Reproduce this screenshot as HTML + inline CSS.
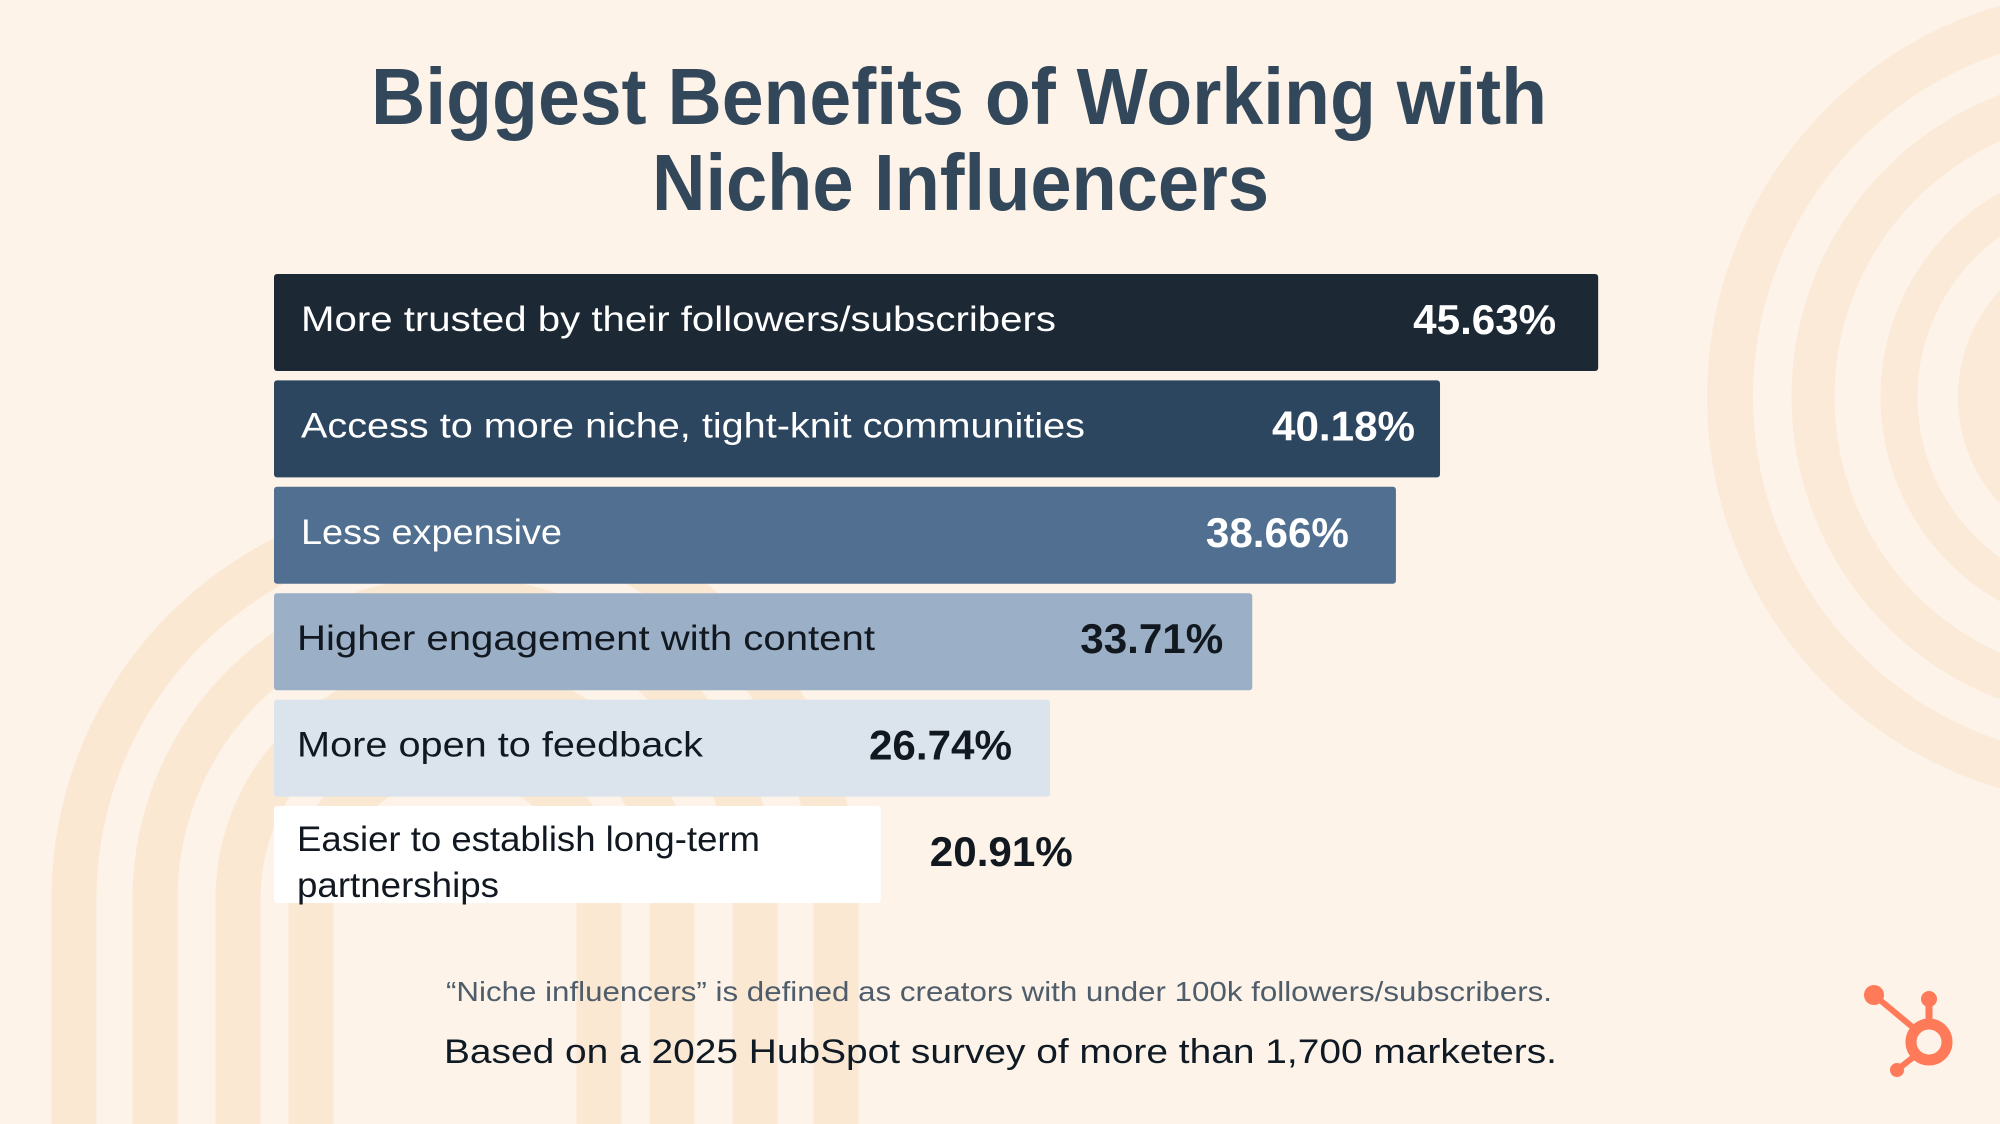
<!DOCTYPE html>
<html><head><meta charset="utf-8"><style>
html,body{margin:0;padding:0;background:#fdf3e8;}
svg{display:block;font-family:"Liberation Sans",sans-serif;}
</style></head><body>
<svg id="chart" width="2000" height="1124" viewBox="0 0 2000 1124">
  <rect width="2000" height="1124" fill="#fdf3e8"/>
  <g fill="none" stroke="#fbead8">
    <circle cx="2115" cy="397" r="385" stroke-width="46"/>
    <circle cx="2115" cy="397" r="302" stroke-width="43"/>
    <circle cx="2115" cy="397" r="216" stroke-width="37"/>
    <circle cx="2115" cy="397" r="157" fill="#fbead8" stroke="none"/>
  </g>
  <g id="arches" fill="none" stroke="#fbe8d3" stroke-width="45"></g>
  <g fill="#33475b" font-weight="bold" font-size="80">
    <text x="371" y="124" textLength="1176" lengthAdjust="spacingAndGlyphs">Biggest Benefits of Working with</text>
    <text x="652" y="210" textLength="617" lengthAdjust="spacingAndGlyphs">Niche Influencers</text>
  </g>
  <g id="bars"></g>
  <text x="446" y="1001" font-size="28" fill="#4f5d6b" textLength="1106" lengthAdjust="spacingAndGlyphs">“Niche influencers” is defined as creators with under 100k followers/subscribers.</text>
  <text x="444" y="1063" font-size="34" fill="#0f1a24" textLength="1113" lengthAdjust="spacingAndGlyphs">Based on a 2025 HubSpot survey of more than 1,700 marketers.</text>
  <g fill="#ff7a59" stroke="#ff7a59">
    <circle cx="1929" cy="1042" r="18" fill="none" stroke-width="11"/>
    <line x1="1929" y1="1000" x2="1929" y2="1025" stroke-width="7"/>
    <circle cx="1929" cy="999" r="8" stroke="none"/>
    <line x1="1874" y1="995" x2="1916" y2="1030" stroke-width="6"/>
    <circle cx="1874" cy="995" r="10" stroke="none"/>
    <line x1="1897" y1="1070" x2="1916" y2="1055" stroke-width="6"/>
    <circle cx="1897" cy="1070" r="7" stroke="none"/>
  </g>
</svg>
<script>
const categories = ["More trusted by their followers/subscribers","Access to more niche, tight-knit communities","Less expensive","Higher engagement with content","More open to feedback","Easier to establish long-term partnerships"];
const values = [45.63, 40.18, 38.66, 33.71, 26.74, 20.91];
const valueLabels = ["45.63%","40.18%","38.66%","33.71%","26.74%","20.91%"];

const NS = "http://www.w3.org/2000/svg";
const x0 = 274, pxPerPct = 29.02, barTop0 = 274, barStep = 106.4, barH = 97;
const fills = ["#1c2935","#2d4660","#516f90","#9bafc6","#dbe3ec","#ffffff"];
const textCols = ["#ffffff","#ffffff","#ffffff","#111820","#111820","#111820"];
const labelW = [755,784,261,578,406];
const valInset = [42,25,47,29,38];
const xScale = v => v * pxPerPct;
const yPos = i => barTop0 + i * barStep;

const arches = document.getElementById('arches');
const acx = 455, acy = 899;
[381, 300, 217, 144].forEach(r => {
  const p = document.createElementNS(NS, 'path');
  p.setAttribute('d', `M${acx-r} 1130 L${acx-r} ${acy} A${r} ${r} 0 0 1 ${acx+r} ${acy} L${acx+r} 1130`);
  
  
  arches.appendChild(p);
});

const g = document.getElementById('bars');
function mk(tag, attrs, parent) {
  const el = document.createElementNS(NS, tag);
  for (const k in attrs) el.setAttribute(k, attrs[k]);
  parent.appendChild(el);
  return el;
}
categories.forEach((cat, i) => {
  const y = yPos(i), w = xScale(values[i]);
  const r = mk('rect', {x: x0, y: y, width: w, height: barH, rx: 3, fill: fills[i]}, g);
  
  
  const lx = i < 3 ? 301 : 297;
  if (i < 5) {
    const t = mk('text', {x: lx, y: y + 57, 'font-size': 35, fill: textCols[i], textLength: labelW[i], lengthAdjust: 'spacingAndGlyphs'}, g);
    t.textContent = cat;
    
    
  } else {
    const t1 = mk('text', {x: lx, y: y + 45, 'font-size': 35, fill: textCols[i], textLength: 463, lengthAdjust: 'spacingAndGlyphs'}, g);
    t1.textContent = "Easier to establish long-term";
    
    
    const t2 = mk('text', {x: lx, y: y + 91, 'font-size': 35, fill: textCols[i], textLength: 202, lengthAdjust: 'spacingAndGlyphs'}, g);
    t2.textContent = "partnerships";
    
    
  }
  let vAttrs;
  if (i < 5) vAttrs = {x: x0 + w - valInset[i], y: y + 60, 'text-anchor': 'end'};
  else vAttrs = {x: x0 + w + 49, y: y + 60, 'text-anchor': 'start'};
  vAttrs['font-size'] = 42; vAttrs['font-weight'] = 'bold';
  vAttrs.fill = textCols[i]; vAttrs.textLength = 143; vAttrs.lengthAdjust = 'spacingAndGlyphs';
  const v = mk('text', vAttrs, g);
  v.textContent = valueLabels[i];
  
  
});
</script>
</body></html>
